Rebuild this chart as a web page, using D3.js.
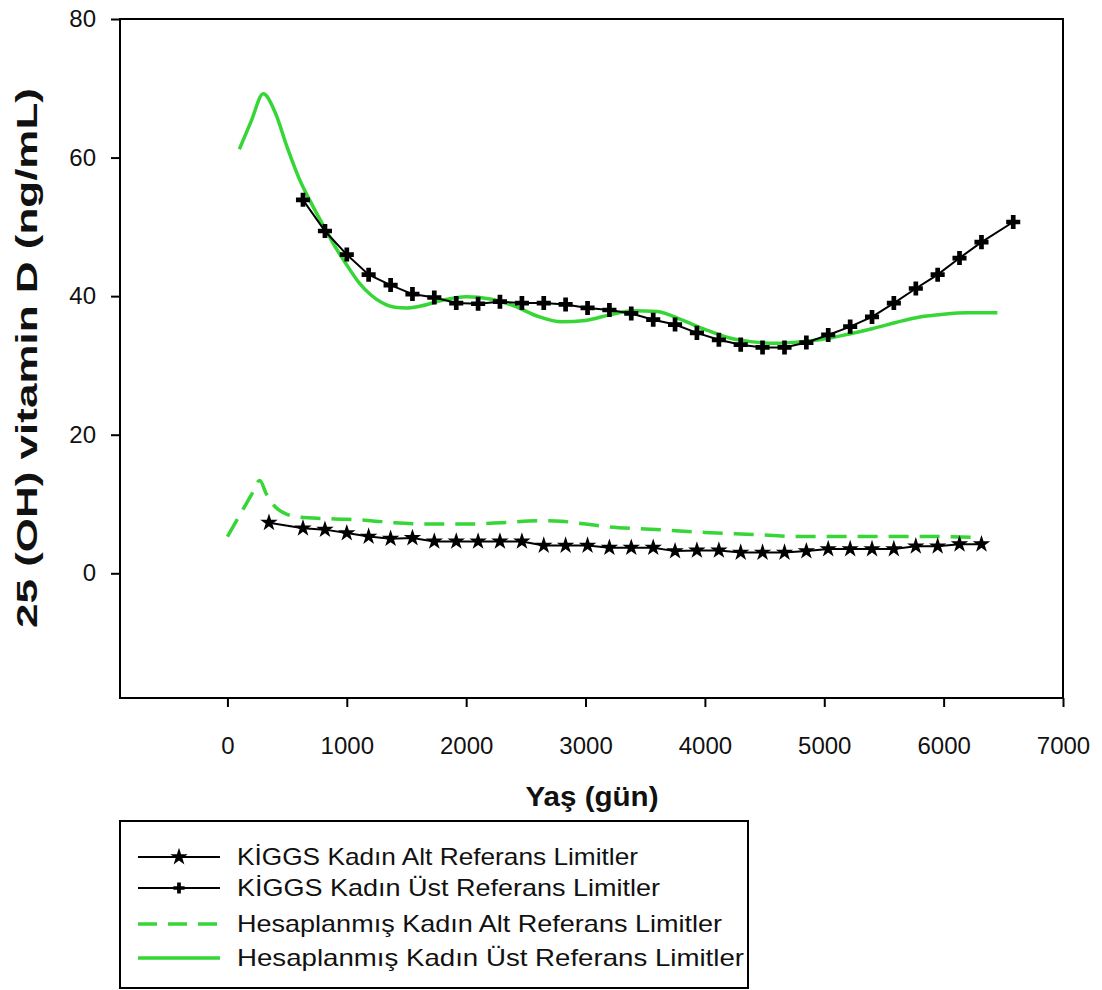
<!DOCTYPE html>
<html>
<head>
<meta charset="utf-8">
<script src="https://cdn.jsdelivr.net/npm/d3@7"></script>
<style>
  body { margin: 0; background: #fff; }
  text { font-family: Arial, "Liberation Sans", sans-serif; }
</style>
</head>
<body>
<svg id="chart" width="1102" height="990"></svg>
<script>
// ---- data ----
var kiggsUpperAge = [633, 817, 1000, 1183, 1367, 1550, 1733, 1917, 2100, 2283, 2467, 2650, 2833, 3017, 3200, 3383, 3567, 3750, 3933, 4117, 4300, 4483, 4667, 4850, 5033, 5217, 5400, 5583, 5767, 5950, 6133, 6317, 6583];
var kiggsUpper = [53.9, 49.4, 46.0, 43.1, 41.6, 40.3, 39.8, 39.0, 38.9, 39.2, 39.0, 39.0, 38.8, 38.3, 38.0, 37.5, 36.6, 35.9, 34.7, 33.7, 33.0, 32.6, 32.6, 33.3, 34.4, 35.6, 37.0, 39.0, 41.1, 43.1, 45.5, 47.8, 50.7];

var kiggsLowerAge = [348, 633, 817, 1000, 1183, 1367, 1550, 1733, 1917, 2100, 2283, 2467, 2650, 2833, 3017, 3200, 3383, 3567, 3750, 3933, 4117, 4300, 4483, 4667, 4850, 5033, 5217, 5400, 5583, 5767, 5950, 6133, 6317];
var kiggsLower = [7.3, 6.5, 6.3, 5.8, 5.3, 5.0, 5.1, 4.6, 4.6, 4.6, 4.6, 4.6, 4.0, 4.0, 4.0, 3.7, 3.7, 3.7, 3.2, 3.3, 3.3, 3.0, 3.0, 3.0, 3.2, 3.5, 3.5, 3.5, 3.5, 3.9, 3.9, 4.2, 4.2];

var calcUpperAge = [100, 200, 300, 400, 500, 600, 700, 800, 900, 1000, 1100, 1200, 1300, 1400, 1500, 1600, 1800, 2000, 2200, 2400, 2600, 2800, 3000, 3200, 3400, 3600, 3800, 4000, 4200, 4400, 4600, 4800, 5000, 5200, 5400, 5600, 5800, 6000, 6200, 6450];
var calcUpper = [61.2, 65.3, 69.2, 66.5, 61.5, 57.0, 53.5, 50.3, 47.2, 44.5, 42.0, 40.2, 39.0, 38.4, 38.3, 38.5, 39.4, 39.9, 39.6, 38.6, 37.1, 36.3, 36.5, 37.3, 37.9, 37.8, 36.6, 35.2, 34.0, 33.4, 33.2, 33.4, 33.8, 34.5, 35.3, 36.2, 37.0, 37.4, 37.6, 37.6];

var calcLowerAge = [0, 100, 200, 270, 330, 400, 500, 600, 800, 1000, 1200, 1400, 1700, 2000, 2300, 2600, 2800, 3000, 3200, 3500, 4000, 4400, 4800, 5400, 5900, 6230];
var calcLower = [5.3, 8.3, 11.3, 13.4, 11.3, 9.6, 8.5, 8.1, 7.9, 7.8, 7.6, 7.3, 7.1, 7.1, 7.3, 7.6, 7.5, 7.1, 6.7, 6.4, 5.9, 5.6, 5.3, 5.3, 5.3, 5.2];

var xTicks = [0, 1000, 2000, 3000, 4000, 5000, 6000, 7000];
var yTicks = [0, 20, 40, 60, 80];

var legendLabels = [
  'KİGGS Kadın Alt Referans Limitler',
  'KİGGS Kadın Üst Referans Limitler',
  'Hesaplanmış Kadın Alt Referans Limitler',
  'Hesaplanmış Kadın Üst Referans Limitler'
];

var GREEN = '#36d636';

(function() {
  var svg = d3.select('#chart');
  var plotLeft = 120, plotRight = 1063, plotTop = 19, plotBottom = 698;

  var x = d3.scaleLinear().domain([-900, 7000]).range([plotLeft, plotRight]);
  var y = d3.scaleLinear().domain([-18, 80]).range([plotBottom, plotTop]);

  function pairs(xs, ys) {
    return xs.map(function(v, i) { return [v, ys[i]]; });
  }

  // axes
  var xAxis = svg.append('g')
    .attr('transform', 'translate(0,' + plotBottom + ')')
    .call(d3.axisBottom(x).tickValues(xTicks).tickSize(9).tickPadding(30).tickFormat(d3.format('d')));
  var yAxis = svg.append('g')
    .attr('transform', 'translate(' + plotLeft + ',0)')
    .call(d3.axisLeft(y).tickValues(yTicks).tickSize(9).tickPadding(15));
  [xAxis, yAxis].forEach(function(ax) {
    ax.select('.domain').remove();
    ax.selectAll('line').attr('stroke', '#000').attr('stroke-width', 2);
    ax.selectAll('text').attr('font-size', 24).attr('fill', '#111').attr('font-family', 'Arial, "Liberation Sans", sans-serif');
  });

  // frame
  svg.append('rect')
    .attr('x', plotLeft).attr('y', plotTop)
    .attr('width', plotRight - plotLeft).attr('height', plotBottom - plotTop)
    .attr('fill', 'none').attr('stroke', '#000').attr('stroke-width', 2);

  // lines
  var smooth = d3.line().x(function(d) { return x(d[0]); }).y(function(d) { return y(d[1]); }).curve(d3.curveMonotoneX);
  var straight = d3.line().x(function(d) { return x(d[0]); }).y(function(d) { return y(d[1]); });

  svg.append('path').datum(pairs(calcLowerAge, calcLower))
    .attr('d', smooth).attr('fill', 'none').attr('stroke', GREEN)
    .attr('stroke-width', 3.5).attr('stroke-dasharray', '20,11');
  svg.append('path').datum(pairs(calcUpperAge, calcUpper))
    .attr('d', smooth).attr('fill', 'none').attr('stroke', GREEN).attr('stroke-width', 3.5);

  svg.append('path').datum(pairs(kiggsLowerAge, kiggsLower))
    .attr('d', straight).attr('fill', 'none').attr('stroke', '#000').attr('stroke-width', 2);
  svg.append('path').datum(pairs(kiggsUpperAge, kiggsUpper))
    .attr('d', straight).attr('fill', 'none').attr('stroke', '#000').attr('stroke-width', 2);

  var star = d3.symbol(d3.symbolStar, 95);
  var cross = d3.symbol(d3.symbolCross, 110);

  svg.append('g').selectAll('path').data(pairs(kiggsLowerAge, kiggsLower)).join('path')
    .attr('d', star)
    .attr('transform', function(d) { return 'translate(' + x(d[0]) + ',' + y(d[1]) + ')'; })
    .attr('fill', '#000');
  svg.append('g').selectAll('path').data(pairs(kiggsUpperAge, kiggsUpper)).join('path')
    .attr('d', cross)
    .attr('transform', function(d) { return 'translate(' + x(d[0]) + ',' + y(d[1]) + ')'; })
    .attr('fill', '#000');

  // axis titles
  svg.append('text')
    .attr('x', 592).attr('y', 806)
    .attr('text-anchor', 'middle')
    .attr('font-size', 27).attr('font-weight', 'bold').attr('fill', '#111')
    .attr('textLength', 133).attr('lengthAdjust', 'spacingAndGlyphs')
    .text('Yaş (gün)');
  svg.append('text')
    .attr('transform', 'translate(37,358) rotate(-90)')
    .attr('text-anchor', 'middle')
    .attr('font-size', 30).attr('font-weight', 'bold').attr('fill', '#111')
    .attr('textLength', 540).attr('lengthAdjust', 'spacingAndGlyphs')
    .text('25 (OH) vitamin D (ng/mL)');

  // legend
  var legend = svg.append('g');
  legend.append('rect')
    .attr('x', 120).attr('y', 821).attr('width', 628).attr('height', 167)
    .attr('fill', '#fff').attr('stroke', '#000').attr('stroke-width', 2);

  var rowY = [857, 888, 924, 958];
  var textLen = [401, 423, 485, 507];
  var rows = legend.selectAll('g.row').data(legendLabels).join('g')
    .attr('class', 'row')
    .attr('transform', function(d, i) { return 'translate(0,' + rowY[i] + ')'; });

  rows.append('line')
    .attr('x1', 138).attr('x2', 220).attr('y1', 0).attr('y2', 0)
    .attr('stroke', function(d, i) { return i < 2 ? '#000' : GREEN; })
    .attr('stroke-width', function(d, i) { return i < 2 ? 2 : 3.5; })
    .attr('stroke-dasharray', function(d, i) { return i === 2 ? '19,11' : null; });

  rows.filter(function(d, i) { return i === 0; }).append('path')
    .attr('d', star).attr('transform', 'translate(179,0)').attr('fill', '#000');
  rows.filter(function(d, i) { return i === 1; }).append('path')
    .attr('d', d3.symbol(d3.symbolCross, 70)).attr('transform', 'translate(179,0)').attr('fill', '#000');

  rows.append('text')
    .attr('x', 237).attr('y', 8)
    .attr('font-size', 24).attr('fill', '#111')
    .attr('textLength', function(d, i) { return textLen[i]; })
    .attr('lengthAdjust', 'spacingAndGlyphs')
    .text(function(d) { return d; });
})();
</script>
</body>
</html>
